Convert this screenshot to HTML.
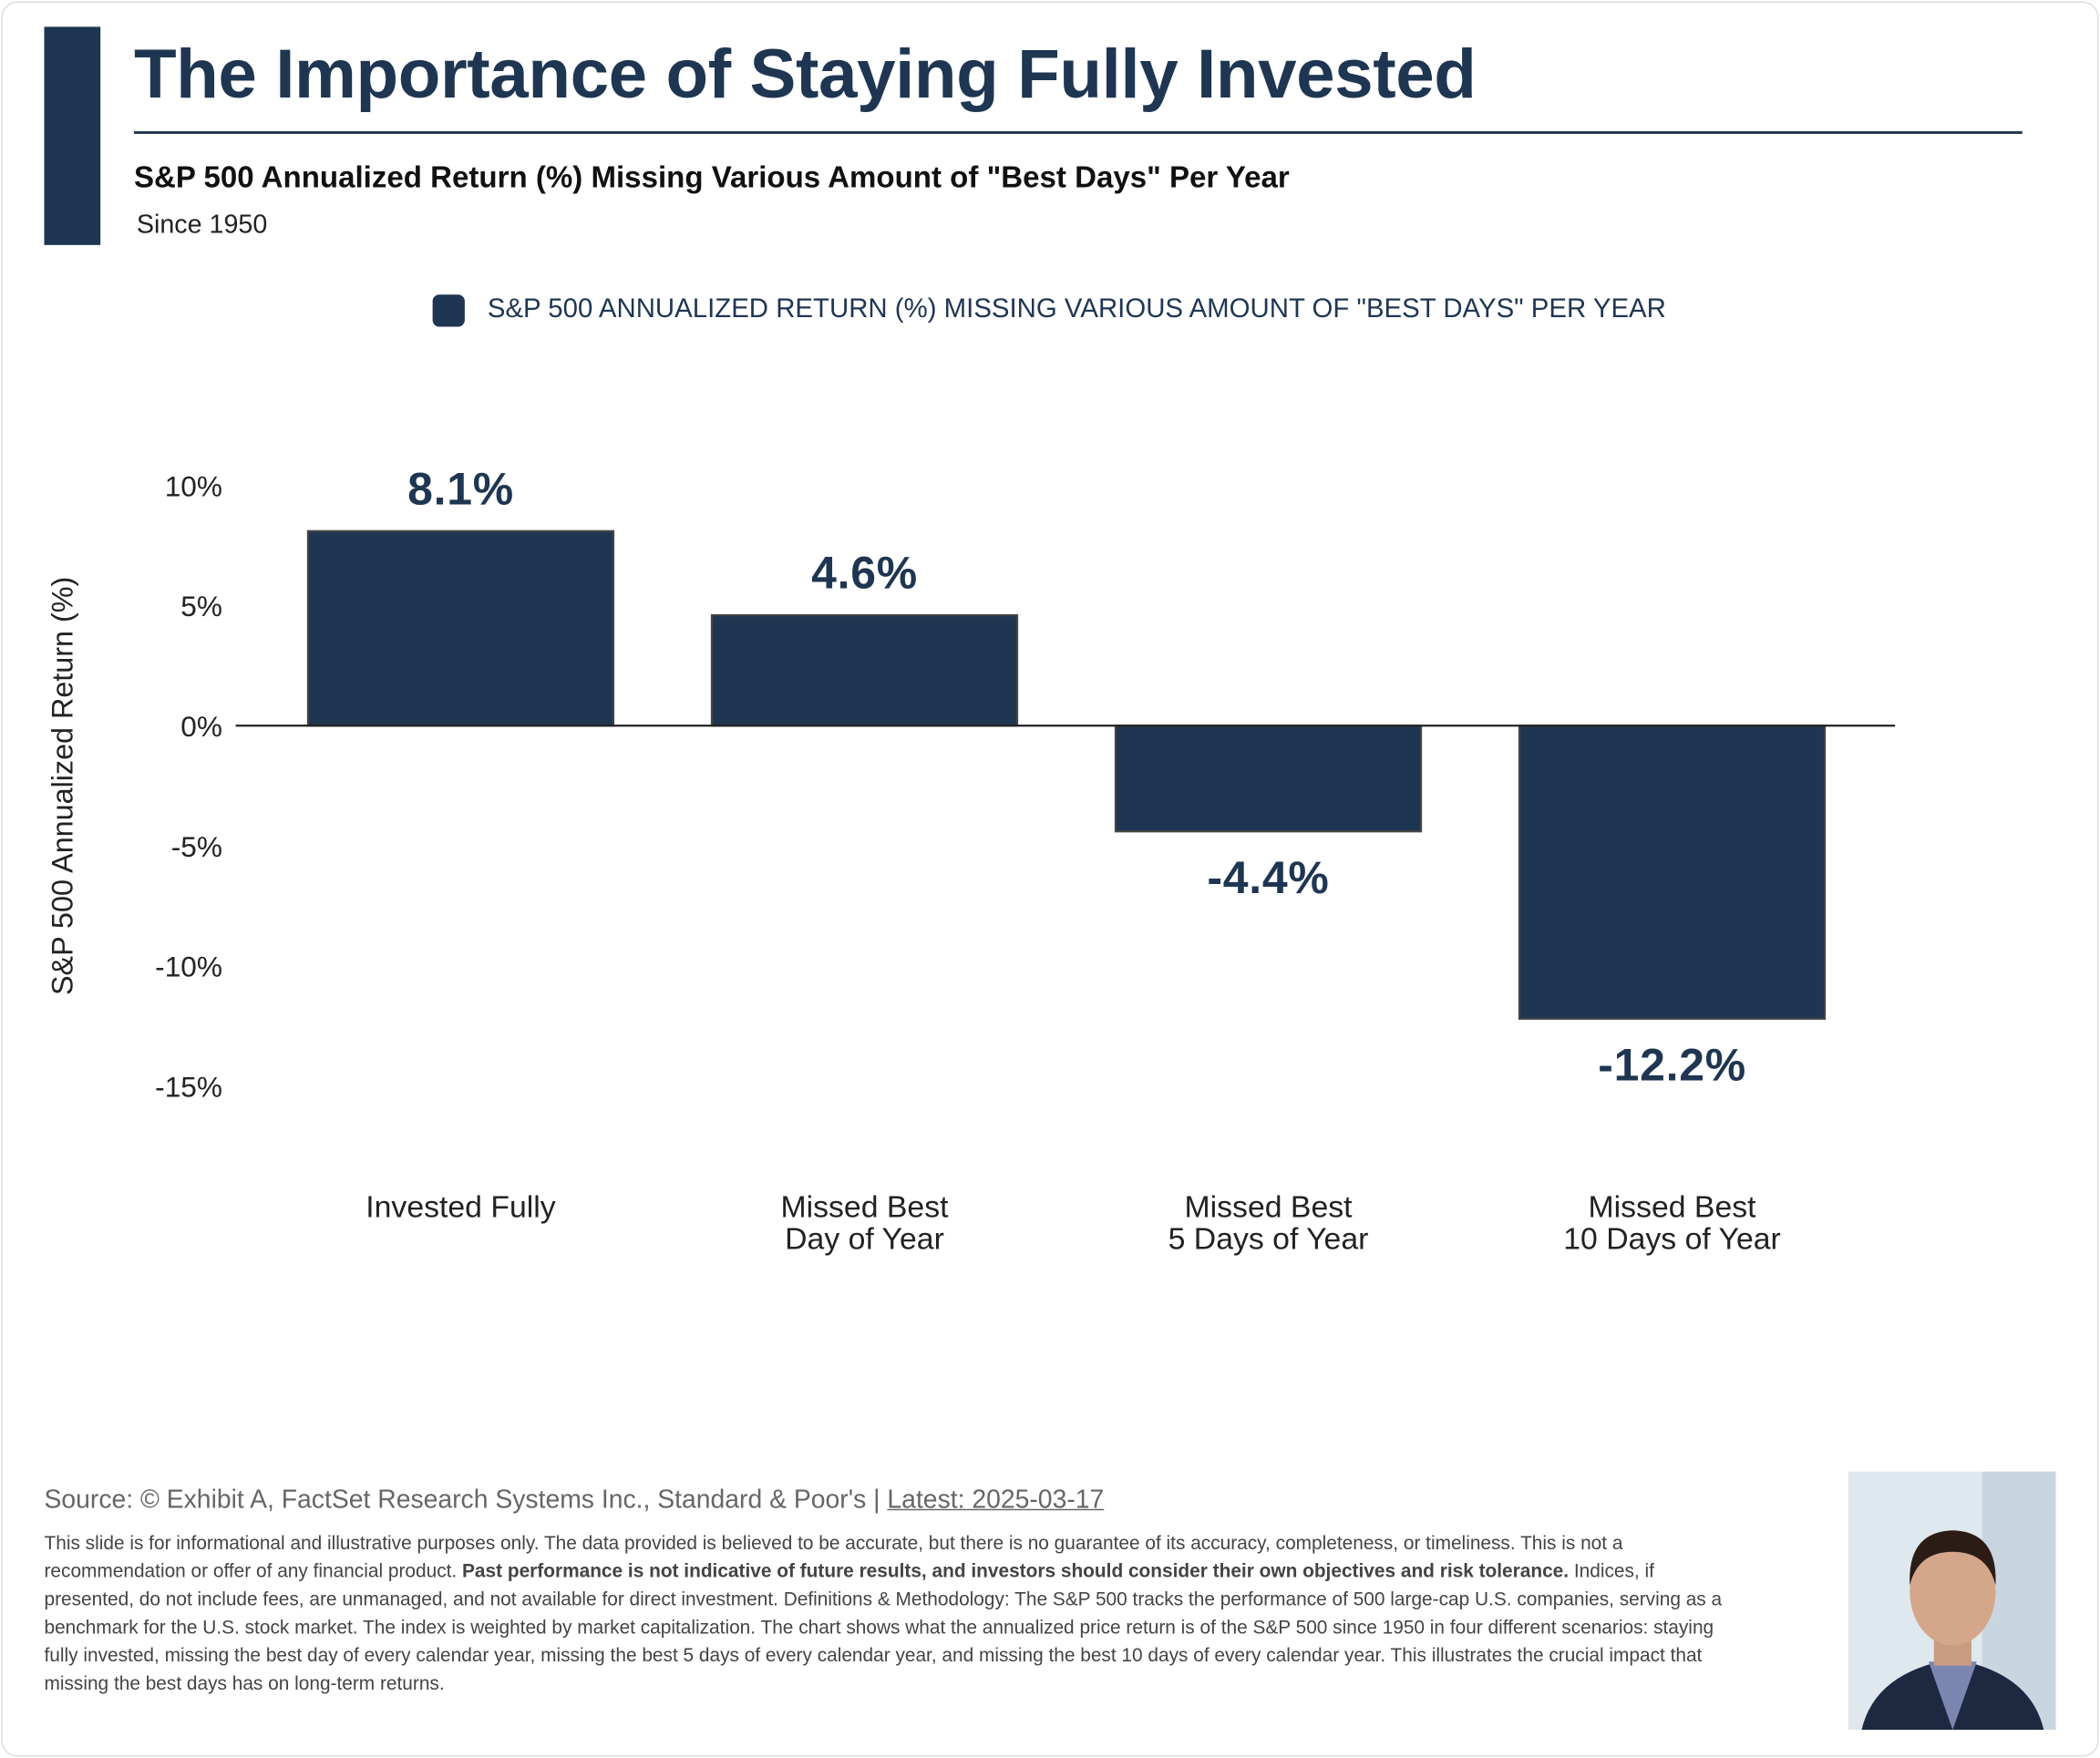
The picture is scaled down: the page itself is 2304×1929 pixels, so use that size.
<!DOCTYPE html>
<html><head><meta charset="utf-8"><style>
html,body{margin:0;padding:0;background:#fff;}
body{width:2304px;height:1929px;overflow:hidden;font-family:"Liberation Sans",sans-serif;}
#s{position:absolute;left:0;top:0;width:1568px;height:1313px;transform:scale(1.46939,1.46916);transform-origin:0 0;}
.card{position:absolute;left:1px;top:1px;width:1564px;height:1309px;border:1px solid #ddd;border-radius:12px;}
.abs{position:absolute;}
</style></head><body><div id="s">
<div class="card"></div>
<div class="abs" style="left:33px;top:20px;width:42px;height:163px;background:#1f3652"></div>
<div class="abs" style="left:100px;top:26px;font-size:52px;font-weight:bold;color:#1f3652;letter-spacing:-0.3px">The Importance of Staying Fully Invested</div>
<div class="abs" style="left:100px;top:98px;width:1410px;height:2px;background:#1f3652"></div>
<div class="abs" style="left:100px;top:120px;font-size:22.5px;font-weight:bold;color:#111">S&amp;P 500 Annualized Return (%) Missing Various Amount of "Best Days" Per Year</div>
<div class="abs" style="left:102px;top:157px;font-size:19.5px;color:#222">Since 1950</div>
<div class="abs" style="left:323px;top:220px;width:24px;height:24px;border-radius:5px;background:#1f3652"></div>
<div class="abs" style="left:364px;top:220px;font-size:20px;color:#1f3652">S&amp;P 500 ANNUALIZED RETURN (%) MISSING VARIOUS AMOUNT OF "BEST DAYS" PER YEAR</div>
<svg class="abs" style="left:0;top:0" width="1568" height="1000" id="chart"></svg>
<div class="abs" style="left:33px;top:1110px;font-size:19.3px;color:#666">Source: © Exhibit A, FactSet Research Systems Inc., Standard &amp; Poor's | <span style="text-decoration:underline">Latest: 2025-03-17</span></div>
<div class="abs" style="left:33px;top:1143px;width:1265px;font-size:14.2px;line-height:21px;color:#444">This slide is for informational and illustrative purposes only. The data provided is believed to be accurate, but there is no guarantee of its accuracy, completeness, or timeliness. This is not a recommendation or offer of any financial product. <b>Past performance is not indicative of future results, and investors should consider their own objectives and risk tolerance.</b> Indices, if presented, do not include fees, are unmanaged, and not available for direct investment. Definitions &amp; Methodology: The S&amp;P 500 tracks the performance of 500 large-cap U.S. companies, serving as a benchmark for the U.S. stock market. The index is weighted by market capitalization. The chart shows what the annualized price return is of the S&amp;P 500 since 1950 in four different scenarios: staying fully invested, missing the best day of every calendar year, missing the best 5 days of every calendar year, and missing the best 10 days of every calendar year. This illustrates the crucial impact that missing the best days has on long-term returns.</div>
<svg class="abs" style="left:1380px;top:1099px" width="155" height="193">
<rect width="155" height="193" fill="#dfe8ee"/><rect x="100" width="55" height="193" fill="#c9d6df"/>
<path d="M10 193 Q20 150 78 140 Q136 150 146 193Z" fill="#1d2940"/>
<path d="M60 142 L78 193 L96 142Z" fill="#7a86b0"/>
<rect x="64" y="120" width="28" height="25" fill="#c99b80"/>
<ellipse cx="78" cy="90" rx="32" ry="40" fill="#d4a68a"/>
<path d="M46 85 Q44 45 78 44 Q112 45 110 85 Q104 60 78 60 Q52 60 46 85Z" fill="#2b1d16"/>
</svg>
<script>
const categories=[["Invested Fully"],["Missed Best","Day of Year"],["Missed Best","5 Days of Year"],["Missed Best","10 Days of Year"]];
const values=[8.1,4.6,-4.4,-12.2];
const valueLabels=["8.1%","4.6%","-4.4%","-12.2%"];
const ticks=[10,5,0,-5,-10,-15];
const tickLabels=["10%","5%","0%","-5%","-10%","-15%"];
const svg=document.getElementById('chart');
const NS='http://www.w3.org/2000/svg';
const y=v=>542-v*17.94;
const x=i=>230+i*301.5;
const bw=228;
function mk(t,a,txt){const e=document.createElementNS(NS,t);for(const k in a)e.setAttribute(k,a[k]);if(txt!=null)e.textContent=txt;svg.appendChild(e);return e;}
ticks.forEach((t,i)=>{const e=mk('text',{x:166,y:y(t)+8,'text-anchor':'end','font-size':21.5,fill:'#222','font-family':'Liberation Sans'},tickLabels[i]);

});
const yt=mk('text',{transform:'translate(54,587) rotate(-90)','text-anchor':'middle','font-size':22,fill:'#222','font-family':'Liberation Sans'},'S&P 500 Annualized Return (%)');


values.forEach((v,i)=>{
const top=Math.min(y(v),y(0)),h=Math.abs(y(v)-y(0));
const r=mk('rect',{x:x(i),y:top,width:bw,height:h,fill:'#1f3652',stroke:'#444','stroke-width':1.5});


const ly=v>=0?y(v)-20:y(v)+46;
const l=mk('text',{x:x(i)+bw/2,y:ly,'text-anchor':'middle','font-size':34,'font-weight':'bold',fill:'#1f3652','font-family':'Liberation Sans','letter-spacing':'0.5'},valueLabels[i]);


categories[i].forEach((c,j)=>{const t=mk('text',{x:x(i)+bw/2,y:909+j*24,'text-anchor':'middle','font-size':23,fill:'#222','font-family':'Liberation Sans'},c);

});
});
const zl=mk('line',{x1:176,x2:1415,y1:y(0),y2:y(0),stroke:'#222','stroke-width':1.5});


</script>
</div></body></html>
